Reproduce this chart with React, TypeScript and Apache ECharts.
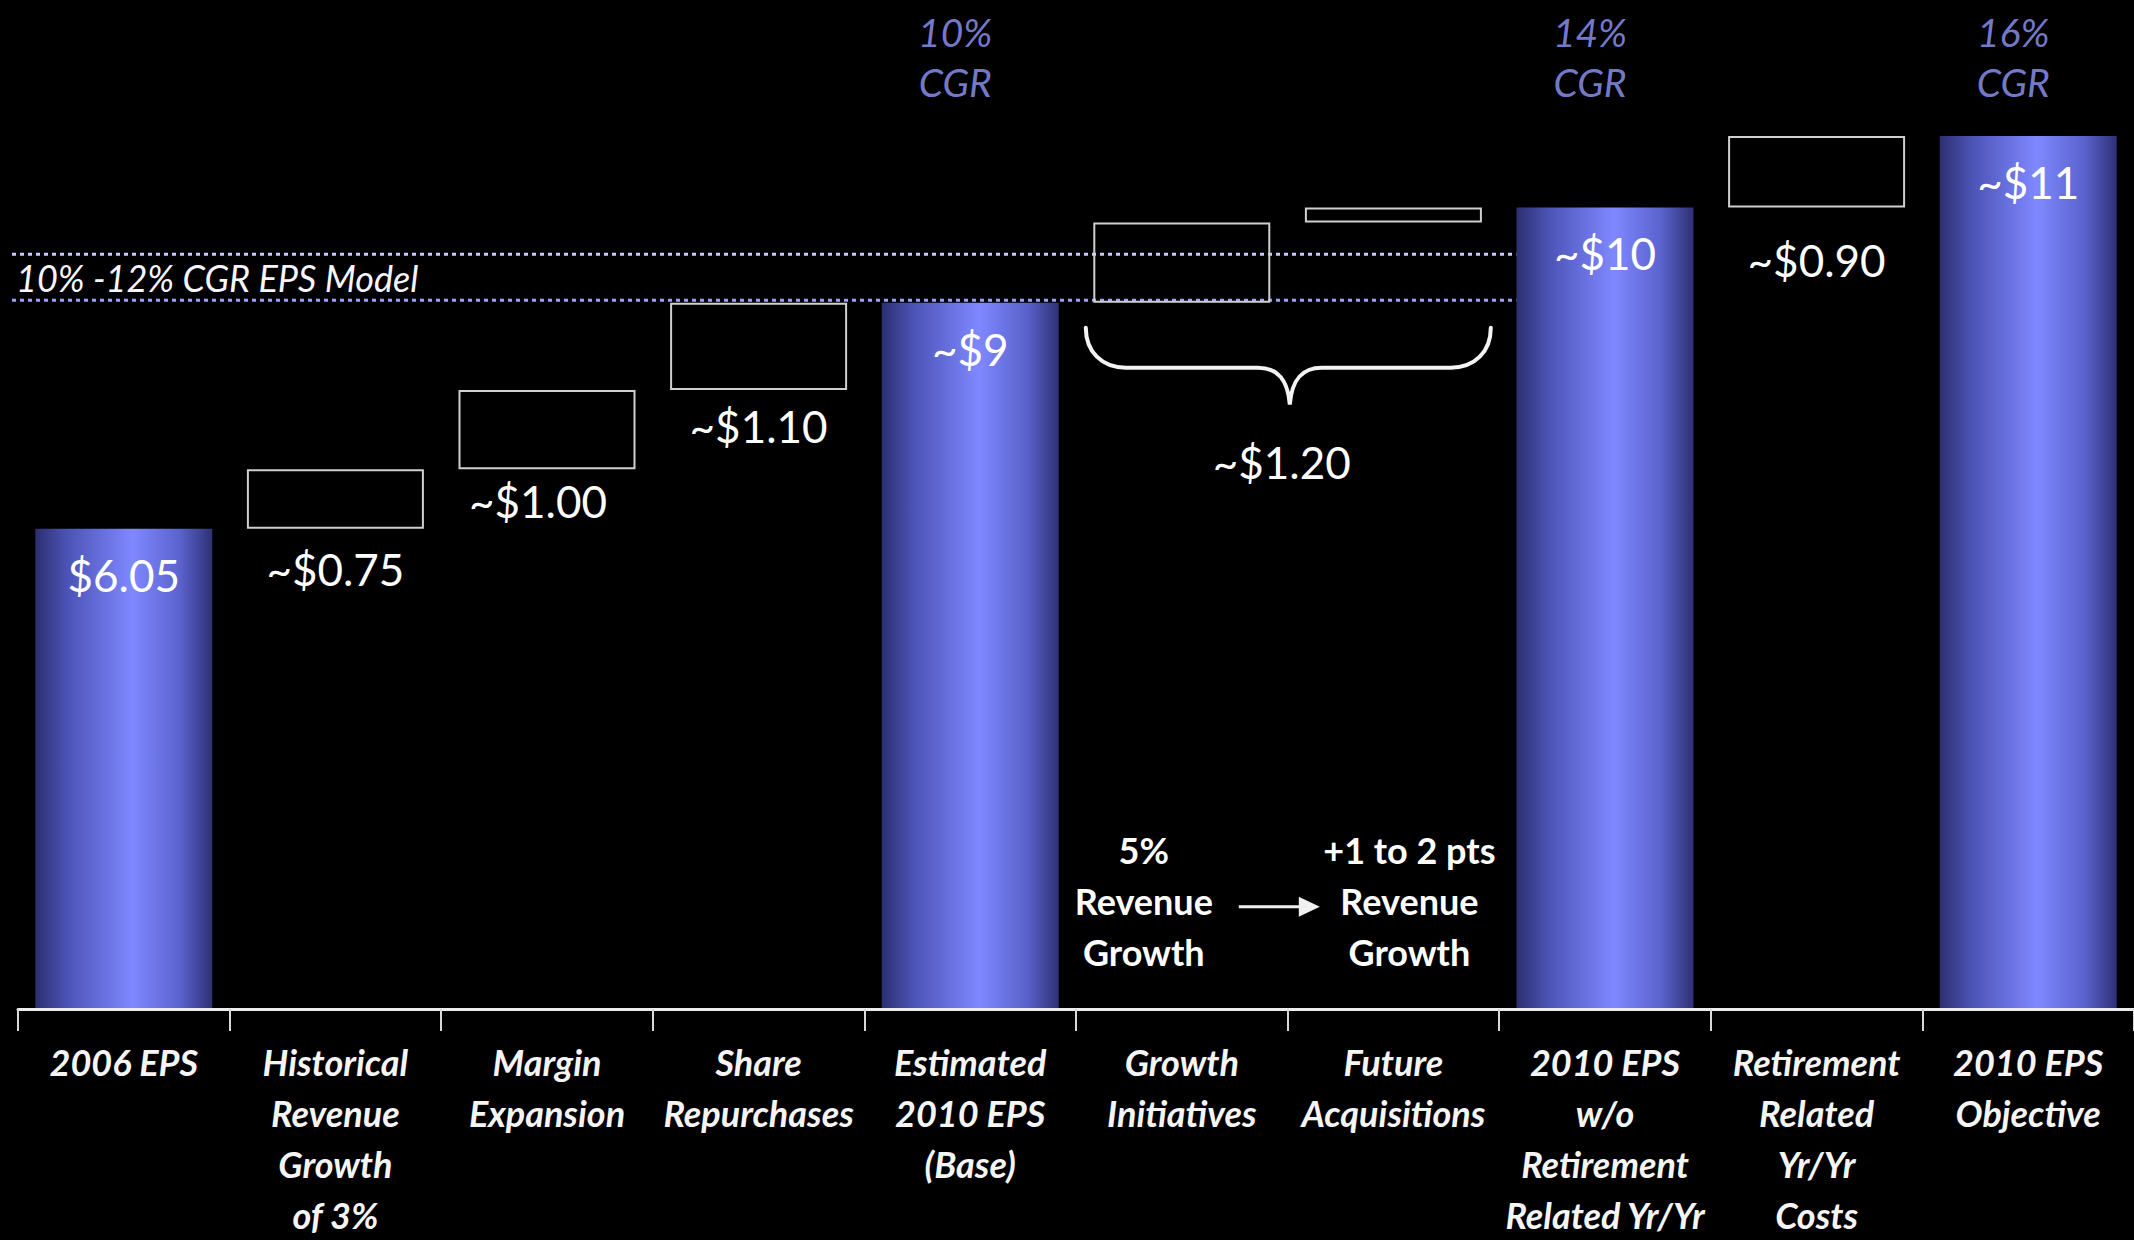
import React, { useEffect, useRef } from 'react';
import * as echarts from 'echarts';

// ---------- data ----------
const categories = [
  '2006 EPS',
  'Historical\nRevenue\nGrowth\nof 3%',
  'Margin\nExpansion',
  'Share\nRepurchases',
  'Estimated\n2010 EPS\n(Base)',
  'Growth\nInitiatives',
  'Future\nAcquisitions',
  '2010 EPS\nw/o\nRetirement\nRelated Yr/Yr',
  'Retirement\nRelated\nYr/Yr\nCosts',
  '2010 EPS\nObjective',
];
const totals: (number | null)[] = [6.05, null, null, null, 8.9, null, null, 10.1, null, 11.0];
const increments: (number | null)[] = [null, 0.75, 1.0, 1.1, null, 1.01, 0.19, null, 0.9, null];
const totalLabels = ['$6.05', '', '', '', '~$9', '', '', '~$10', '', '~$11'];
const incrementLabels = ['', '~$0.75', '~$1.00', '~$1.10', '', '', '', '', '~$0.90', ''];
const cgrCategories = [4, 7, 9];
const cgrRates = ['10%', '14%', '16%'];
const cgrLevel = 12.0;
const modelBand = [8.93, 9.51]; // 10% and 12% CGR model lines
const modelLabel = '10% -12% CGR EPS Model';
const bracketTotal = '~$1.20';
const growthNoteLeft = '5%\nRevenue\nGrowth';
const growthNoteRight = '+1 to 2 pts\nRevenue\nGrowth';

// ---------- layout (not data) ----------
const incrementLabelGap = [0, 18, 10, 14, 0, 0, 0, 0, 31, 0];
const incrementLabelShift = [0, 0, -9, 0, 0, 0, 0, 0, 0, 0];
const BAR_W = 177;
const FONT = 'Lato, "Open Sans", sans-serif';

// waterfall base derived from values
const bases: (number | null)[] = [];
{
  let run = 0;
  categories.forEach((_, i) => {
    const t = totals[i];
    const inc = increments[i];
    if (t != null) {
      run = t;
      bases.push(null);
    } else {
      bases.push(run);
      run += inc ?? 0;
    }
  });
}

const BRACE_D =
  'M0,0 C0,24 16,40 40,40 L172,40 C192,40 202,52 204,77 C206,52 216,40 236,40 L365,40 C389,40 405,24 405,0';
let braceRegistered = false;
function ensureBrace() {
  if (braceRegistered) return;
  echarts.graphic.registerShape('brace', echarts.graphic.extendPath(BRACE_D, {}) as any);
  braceRegistered = true;
}

export default function App() {
  const ref = useRef<HTMLDivElement>(null);

  useEffect(() => {
    if (!ref.current) return;
    ensureBrace();
    const chart = echarts.init(ref.current, null, { renderer: 'svg' });

    const barGradient = new echarts.graphic.LinearGradient(0, 0, 1, 0, [
      { offset: 0, color: '#2c2f70' },
      { offset: 0.18, color: '#4c53b6' },
      { offset: 0.55, color: '#7f88ff' },
      { offset: 0.82, color: '#5a62cc' },
      { offset: 1, color: '#2e3174' },
    ]);

    const option: any = {
      animation: false,
      backgroundColor: '#000000',
      grid: { left: 18, top: 17, width: 2120, height: 1000, containLabel: false },
      xAxis: {
        type: 'category',
        data: categories,
        z: 3,
        axisLine: { show: true, lineStyle: { color: '#ececec', width: 3 } },
        axisTick: { show: true, interval: 0, length: 22, lineStyle: { color: '#d8d8d8', width: 2 } },
        axisLabel: {
          interval: 0,
          margin: 27,
          color: '#f5f5f5',
          fontFamily: FONT,
          fontStyle: 'italic',
          fontWeight: 'bold',
          fontSize: 36,
          lineHeight: 51,
        },
        splitLine: { show: false },
      },
      yAxis: {
        type: 'value',
        min: 0,
        max: 12.5,
        show: false,
        splitLine: { show: false },
      },
      series: [
        {
          name: 'base',
          type: 'bar',
          stack: 'wf',
          barWidth: BAR_W,
          barGap: '-100%',
          silent: true,
          itemStyle: { color: 'rgba(0,0,0,0)' },
          data: bases.map((v) => (v == null ? '-' : v)),
        },
        {
          name: 'increment',
          type: 'bar',
          stack: 'wf',
          barWidth: BAR_W,
          barGap: '-100%',
          itemStyle: { color: 'rgba(0,0,0,0)', borderColor: '#cfcfcf', borderWidth: 2 },
          label: {
            show: true,
            position: 'bottom',
            color: '#ffffff',
            fontFamily: FONT,
            fontSize: 44,
            formatter: (p: any) => incrementLabels[p.dataIndex],
          },
          data: increments.map((v, i) =>
            v == null
              ? '-'
              : {
                  value: v,
                  label: { distance: incrementLabelGap[i], offset: [incrementLabelShift[i], 0] },
                }
          ),
        },
        {
          name: 'total',
          type: 'bar',
          barWidth: BAR_W,
          barGap: '-100%',
          itemStyle: { color: barGradient },
          label: {
            show: true,
            position: 'insideTop',
            distance: 24,
            color: '#ffffff',
            fontFamily: FONT,
            fontSize: 44,
            formatter: (p: any) => totalLabels[p.dataIndex],
          },
          data: totals.map((v) => (v == null ? '-' : v)),
        },
        {
          name: 'cgr',
          type: 'scatter',
          symbolSize: 0,
          silent: true,
          label: {
            show: true,
            position: 'inside',
            offset: [-15, 0],
            color: '#959bff',
            fontFamily: FONT,
            fontStyle: 'italic',
            fontSize: 39,
            lineHeight: 50,
            formatter: (p: any) => `${p.name}\nCGR`,
          },
          data: cgrCategories.map((c, i) => ({ value: [c, cgrLevel], name: cgrRates[i] })),
        },
      ],
    };

    chart.setOption(option);

    const px = (i: number) => chart.convertToPixel({ xAxisIndex: 0 }, i) as number;
    const py = (v: number) => chart.convertToPixel({ yAxisIndex: 0 }, v) as number;

    const lineEnd = px(7) - BAR_W / 2;
    const yLow = py(modelBand[0]);
    const yHigh = py(modelBand[1]);
    const braceX = px(5) - 96;
    const braceY = py(bases[5] as number) + 25;
    const noteY = py(1.36);
    const arrowY = py(1.29);
    const arrowX = px(5) + 57;

    const graphic: any[] = [
      {
        type: 'line',
        z: 0,
        shape: { x1: 12, y1: yHigh, x2: lineEnd, y2: yHigh },
        style: { stroke: '#c8cbff', lineWidth: 3, lineDash: [4, 4] },
      },
      {
        type: 'line',
        z: 0,
        shape: { x1: 12, y1: yLow, x2: lineEnd, y2: yLow },
        style: { stroke: '#9aa0ff', lineWidth: 3, lineDash: [4, 4] },
      },
      {
        type: 'text',
        z: 5,
        x: 16,
        y: (yLow + yHigh) / 2 + 1,
        style: {
          text: modelLabel,
          fill: '#f6f6ff',
          fontFamily: FONT,
          fontStyle: 'italic',
          fontSize: 36,
          verticalAlign: 'middle',
          align: 'left',
        },
      },
      {
        type: 'brace',
        z: 5,
        x: braceX,
        y: braceY,
        style: { stroke: '#f4f4f4', lineWidth: 4, fill: 'none', lineCap: 'round' },
      },
      {
        type: 'text',
        z: 5,
        x: braceX + 196,
        y: braceY + 134,
        style: {
          text: bracketTotal,
          fill: '#ffffff',
          fontFamily: FONT,
          fontSize: 44,
          align: 'center',
          verticalAlign: 'middle',
        },
      },
      {
        type: 'text',
        z: 5,
        x: px(5) - 38,
        y: noteY,
        style: {
          text: growthNoteLeft,
          fill: '#ffffff',
          fontFamily: FONT,
          fontWeight: 'bold',
          fontSize: 36,
          lineHeight: 51,
          align: 'center',
          verticalAlign: 'middle',
        },
      },
      {
        type: 'text',
        z: 5,
        x: px(6) + 16,
        y: noteY,
        style: {
          text: growthNoteRight,
          fill: '#ffffff',
          fontFamily: FONT,
          fontWeight: 'bold',
          fontSize: 36,
          lineHeight: 51,
          align: 'center',
          verticalAlign: 'middle',
        },
      },
      {
        type: 'line',
        z: 5,
        shape: { x1: arrowX, y1: arrowY, x2: arrowX + 64, y2: arrowY },
        style: { stroke: '#f0f0f0', lineWidth: 3 },
      },
      {
        type: 'polygon',
        z: 5,
        shape: {
          points: [
            [arrowX + 60, arrowY - 10],
            [arrowX + 81, arrowY],
            [arrowX + 60, arrowY + 10],
          ],
        },
        style: { fill: '#f0f0f0' },
      },
    ];

    chart.setOption({ graphic });

    return () => {
      chart.dispose();
    };
  }, []);

  return (
    <div
      ref={ref}
      style={{
        position: 'absolute',
        left: 0,
        top: 0,
        width: 2134,
        height: 1240,
        background: '#000000',
      }}
    />
  );
}
